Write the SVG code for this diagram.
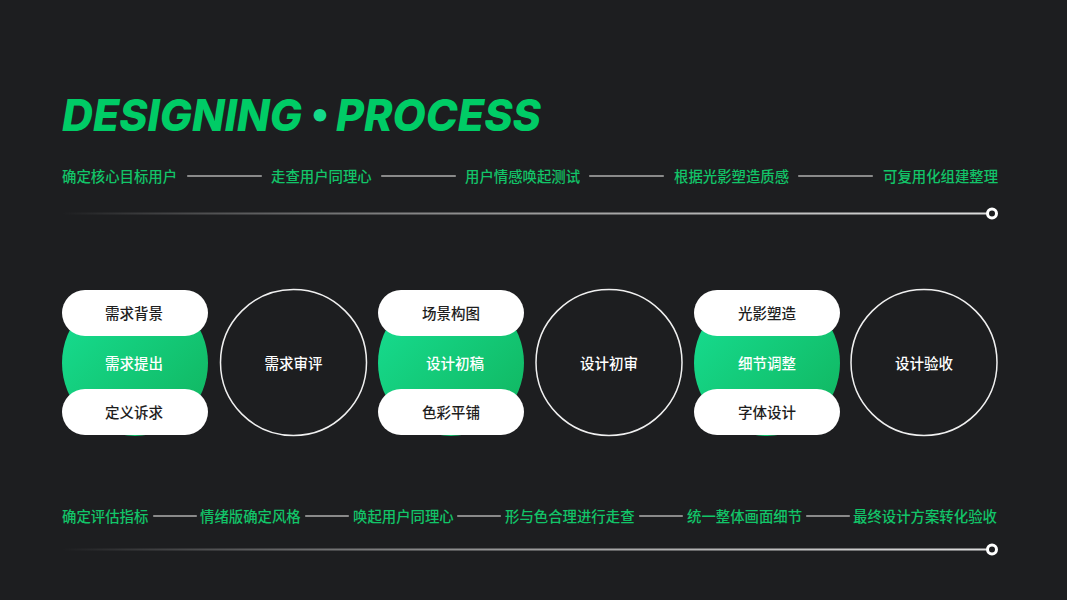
<svg xmlns="http://www.w3.org/2000/svg" width="1067" height="600" viewBox="0 0 1067 600">
<defs>
<linearGradient id="gGreen" x1="0" y1="0" x2="1" y2="1">
<stop offset="0" stop-color="#17e094"/>
<stop offset="1" stop-color="#10b35c"/>
</linearGradient>
<linearGradient id="gLine" x1="62" y1="0" x2="992" y2="0" gradientUnits="userSpaceOnUse">
<stop offset="0" stop-color="#cccccc" stop-opacity="0"/>
<stop offset="0.5" stop-color="#9a9a9a"/>
<stop offset="1" stop-color="#dddddd"/>
</linearGradient>
<style>
.lab{font-family:"Noto Sans CJK SC","Noto Sans",sans-serif;font-size:14.4px;fill:#12c468;font-weight:500;dominant-baseline:central}
.dash{stroke:#8a8a8a;stroke-width:2.2;stroke-linecap:round}
.pill{fill:#ffffff}
.pt{font-family:"Noto Sans CJK SC","Noto Sans",sans-serif;font-size:14.5px;fill:#1e1e1e;font-weight:500;text-anchor:middle;dominant-baseline:central}
.wt{font-family:"Noto Sans CJK SC","Noto Sans",sans-serif;font-size:14.5px;fill:#ffffff;font-weight:500;text-anchor:middle;dominant-baseline:central}
.ring{fill:none;stroke:#f0f0f0;stroke-width:1.5}
.tl{stroke:url(#gLine);stroke-width:2}
.end{fill:#1d1e20;stroke:#ffffff;stroke-width:3}
.ttl{font-family:Inter,"Liberation Sans",sans-serif;font-weight:800;font-style:italic;font-size:44px;fill:#00cc66}
</style>
</defs>
<rect width="1067" height="600" fill="#1d1e20"/>
<g id="title">
<text class="ttl" x="62" y="131" textLength="240" lengthAdjust="spacingAndGlyphs">DESIGNING</text>
<text x="320" y="112" font-family="Inter,'Liberation Sans',sans-serif" font-size="40" font-weight="700" fill="#14d98a" text-anchor="middle" dominant-baseline="central">•</text>
<text class="ttl" x="336" y="131" textLength="205" lengthAdjust="spacingAndGlyphs">PROCESS</text>
</g>

<g id="top-row">
<text class="lab" x="62" y="175">确定核心目标用户</text>
<text class="lab" x="271" y="175">走查用户同理心</text>
<text class="lab" x="465" y="175">用户情感唤起测试</text>
<text class="lab" x="674" y="175">根据光影塑造质感</text>
<text class="lab" x="883" y="175">可复用化组建整理</text>
</g>
<g id="bottom-row">
<text class="lab" x="62" y="515">确定评估指标</text>
<text class="lab" x="200" y="515">情绪版确定风格</text>
<text class="lab" x="353" y="515">唤起用户同理心</text>
<text class="lab" x="505" y="515">形与色合理进行走查</text>
<text class="lab" x="687" y="515">统一整体画面细节</text>
<text class="lab" x="853" y="515">最终设计方案转化验收</text>
</g>

<g id="connectors">
<line class="dash" x1="188" y1="176" x2="261" y2="176"/>
<line class="dash" x1="382" y1="176" x2="455" y2="176"/>
<line class="dash" x1="590" y1="176" x2="663" y2="176"/>
<line class="dash" x1="799" y1="176" x2="872" y2="176"/>
<line class="dash" x1="154" y1="516" x2="196" y2="516"/>
<line class="dash" x1="306" y1="516" x2="348" y2="516"/>
<line class="dash" x1="458" y1="516" x2="500" y2="516"/>
<line class="dash" x1="640" y1="516" x2="682" y2="516"/>
<line class="dash" x1="807" y1="516" x2="849" y2="516"/>
<line class="tl" x1="62" y1="213.5" x2="987" y2="213.5"/>
<circle class="end" cx="992" cy="213.5" r="4.5"/>
<line class="tl" x1="62" y1="549.5" x2="987" y2="549.5"/>
<circle class="end" cx="992" cy="549.5" r="4.5"/>
</g>

<g id="node-1">
<circle cx="135" cy="363" r="73" fill="url(#gGreen)"/>
<rect class="pill" x="62" y="290" width="146" height="46" rx="23"/>
<rect class="pill" x="62" y="389" width="146" height="46" rx="23"/>
<text class="pt" x="134" y="312">需求背景</text>
<text class="wt" x="134" y="362">需求提出</text>
<text class="pt" x="134" y="411">定义诉求</text>
</g>
<g id="node-2">
<circle class="ring" cx="293.5" cy="362.5" r="73"/>
<text class="wt" x="293.5" y="362">需求审评</text>
</g>
<g id="node-3">
<circle cx="451" cy="363" r="73" fill="url(#gGreen)"/>
<rect class="pill" x="378" y="290" width="146" height="46" rx="23"/>
<rect class="pill" x="378" y="389" width="146" height="46" rx="23"/>
<text class="pt" x="451" y="312">场景构图</text>
<text class="wt" x="455" y="362">设计初稿</text>
<text class="pt" x="451" y="411">色彩平铺</text>
</g>
<g id="node-4">
<circle class="ring" cx="609" cy="362.5" r="73"/>
<text class="wt" x="609" y="362">设计初审</text>
</g>
<g id="node-5">
<circle cx="767" cy="363" r="73" fill="url(#gGreen)"/>
<rect class="pill" x="694" y="290" width="146" height="46" rx="23"/>
<rect class="pill" x="694" y="389" width="146" height="46" rx="23"/>
<text class="pt" x="767" y="312">光影塑造</text>
<text class="wt" x="767" y="362">细节调整</text>
<text class="pt" x="767" y="411">字体设计</text>
</g>
<g id="node-6">
<circle class="ring" cx="924" cy="362.5" r="73"/>
<text class="wt" x="924" y="362">设计验收</text>
</g>
</svg>
